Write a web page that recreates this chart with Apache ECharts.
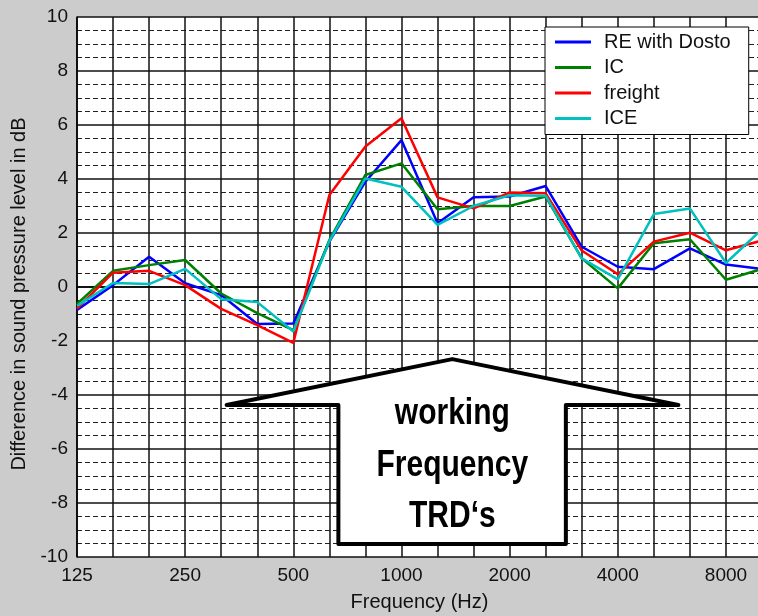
<!DOCTYPE html>
<html>
<head>
<meta charset="utf-8">
<title>Difference in sound pressure level</title>
<script src="https://cdn.jsdelivr.net/npm/echarts@6.0.0/dist/echarts.min.js"></script>
<style>
  html, body { margin: 0; padding: 0; background: #cccccc; }
  #chart { width: 758px; height: 616px; }
</style>
</head>
<body>
<div id="chart"></div>
<script>
  // third-octave bands (Hz)
  var freqs = ['125', '160', '200', '250', '315', '400', '500', '630', '800', '1000',
    '1250', '1600', '2000', '2500', '3150', '4000', '5000', '6300', '8000', '10000'];

  // dB values
  var reDosto = [-0.85, 0.07, 1.12, 0.14, -0.3, -1.37, -1.35, 1.68, 3.9, 5.44,
    2.36, 3.32, 3.35, 3.74, 1.49, 0.75, 0.66, 1.43, 0.83, 0.67];
  var ic = [-0.63, 0.6, 0.81, 1.0, -0.24, -0.97, -1.6, 1.74, 4.15, 4.58,
    2.88, 3.0, 3.0, 3.35, 1.06, -0.05, 1.62, 1.77, 0.27, 0.67];
  var freight = [-0.8, 0.53, 0.6, 0.07, -0.81, -1.41, -2.07, 3.41, 5.2, 6.25,
    3.32, 2.91, 3.5, 3.47, 1.35, 0.47, 1.68, 2.01, 1.36, 1.72];
  var ice = [-0.7, 0.15, 0.11, 0.67, -0.45, -0.56, -1.65, 1.7, 4.02, 3.71,
    2.3, 3.0, 3.4, 3.38, 1.06, 0.28, 2.7, 2.91, 0.89, 2.14];

  var seriesNames = ['RE with Dosto', 'IC', 'freight', 'ICE'];
  var yTicks = [-10, -8, -6, -4, -2, 0, 2, 4, 6, 8, 10];

  var font = '"Liberation Sans", Arial, sans-serif';
  var chart = echarts.init(document.getElementById('chart'));

  function line(name, data, color) {
    return {
      name: name,
      type: 'line',
      data: data,
      showSymbol: false,
      symbol: 'none',
      lineStyle: {color: color, width: 2.5},
      itemStyle: {color: color}
    };
  }

  var option = {
    animation: false,
    backgroundColor: '#cccccc',
    textStyle: {fontFamily: font},
    grid: {
      left: 77,
      top: 17,
      width: 685,
      height: 540,
      show: true,
      backgroundColor: '#ffffff',
      borderWidth: 0,
      outerBoundsMode: 'none'
    },
    legend: {
      orient: 'vertical',
      left: 545,
      top: 27,
      data: seriesNames,
      icon: 'rect',
      itemWidth: 36,
      itemHeight: 3,
      itemGap: 5.5,
      padding: [5, 18, 6, 10],
      borderColor: '#000',
      borderWidth: 1,
      backgroundColor: '#fff',
      textStyle: {fontSize: 20, lineHeight: 20, color: '#111', padding: [0, 0, 0, 8]}
    },
    xAxis: {
      type: 'category',
      data: freqs,
      boundaryGap: false,
      name: 'Frequency (Hz)',
      nameLocation: 'middle',
      nameGap: 35,
      nameTextStyle: {fontSize: 20, color: '#111'},
      axisLine: {lineStyle: {color: '#000', width: 1.5}},
      axisTick: {show: false},
      axisLabel: {
        fontSize: 19,
        color: '#111',
        margin: 9,
        interval: 0,
        formatter: function (v, i) { return i % 3 === 0 ? v : ''; }
      },
      splitLine: {show: true, interval: 0, lineStyle: {color: '#111', width: 1.5}}
    },
    yAxis: {
      type: 'value',
      min: yTicks[0],
      max: yTicks[yTicks.length - 1],
      interval: 2,
      name: 'Difference in sound pressure level in dB',
      nameLocation: 'middle',
      nameRotate: 90,
      nameGap: 48,
      nameTextStyle: {fontSize: 20, color: '#111', padding: [0, 14, 0, 0]},
      axisLine: {show: true, lineStyle: {color: '#000', width: 1.5}},
      axisTick: {show: false},
      axisLabel: {fontSize: 19, color: '#111', margin: 9},
      splitLine: {lineStyle: {color: '#111', width: 1.5}},
      minorTick: {show: false, splitNumber: 4},
      minorSplitLine: {show: true, lineStyle: {color: '#222', width: 1, type: [5, 3]}}
    },
    series: [
      line(seriesNames[0], reDosto, '#0000ff'),
      line(seriesNames[1], ic, '#008000'),
      line(seriesNames[2], freight, '#ff0000'),
      line(seriesNames[3], ice, '#00c0c0')
    ]
  };
  chart.setOption(option);

  // pixel position from (category index, dB); fractional index is interpolated
  function px(xi, v) {
    var i0 = Math.floor(xi), f = xi - i0;
    var a = chart.convertToPixel({gridIndex: 0}, [i0, v]);
    var b = chart.convertToPixel({gridIndex: 0}, [i0 + 1, v]);
    return [a[0] + (b[0] - a[0]) * f, a[1]];
  }

  // big arrow with "working Frequency TRD's"
  var arrow = [
    px(4.15, -4.37), px(10.41, -2.67), px(16.68, -4.37),
    px(13.56, -4.37), px(13.56, -9.52), px(7.25, -9.52), px(7.25, -4.37)
  ];
  var mid = px(10.41, -6.62);

  chart.setOption({
    graphic: [
      {
        type: 'polygon',
        z: 100,
        shape: {points: arrow},
        style: {fill: '#fff', stroke: '#000', lineWidth: 4, lineJoin: 'round'}
      },
      {
        type: 'text',
        z: 101,
        x: mid[0],
        y: mid[1],
        scaleY: 1.2,
        style: {
          text: 'working\nFrequency\nTRD‘s',
          fontFamily: font,
          fontSize: 30,
          fontWeight: 'bold',
          lineHeight: 43,
          fill: '#000',
          align: 'center',
          verticalAlign: 'middle'
        }
      }
    ]
  });
</script>
</body>
</html>
